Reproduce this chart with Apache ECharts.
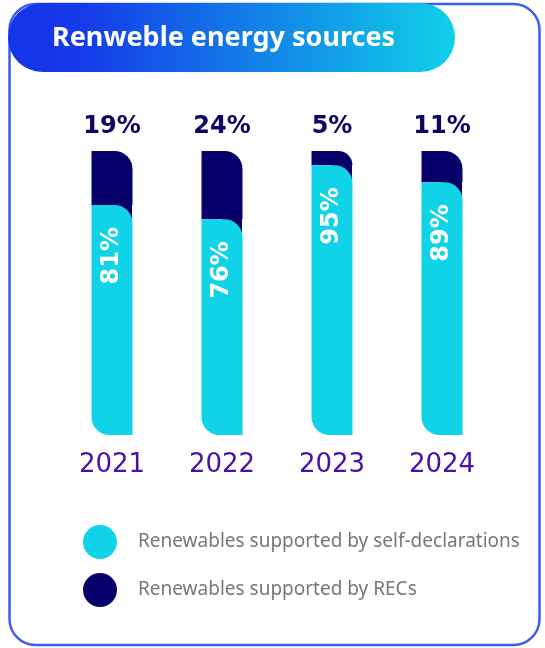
<!DOCTYPE html>
<html>
<head>
<meta charset="utf-8">
<script src="https://cdn.jsdelivr.net/npm/echarts@6/dist/echarts.min.js"></script>
<style>
  html, body { margin: 0; padding: 0; background: #ffffff; }
  #chart { width: 545px; height: 648px; }
</style>
</head>
<body>
<div id="chart"></div>
<script>
// Share of renewable energy by supporting evidence, per year (%)
const years = ['2021', '2022', '2023', '2024'];
const selfDeclared = [81, 76, 95, 89];
const recs = [19, 24, 5, 11];

const CYAN = '#10d3e8';
const NAVY = '#08006a';
const BAR_W = 41;
const CORNER = 18;
const FONT = '"Noto Sans", "Open Sans", sans-serif';
const NUM_FONT = '"DejaVu Sans", sans-serif';

const chart = echarts.init(document.getElementById('chart'), null, { renderer: 'canvas' });

chart.setOption({
  animation: false,
  backgroundColor: '#ffffff',
  graphic: [
    {
      type: 'rect',
      z: 0,
      shape: { x: 9.5, y: 4, width: 530, height: 641, r: 26 },
      style: { fill: 'none', stroke: '#3d5cf0', lineWidth: 2.5 }
    },
    {
      type: 'rect',
      z: 10,
      shape: { x: 8, y: 3, width: 447, height: 69, r: 34.5 },
      style: {
        fill: new echarts.graphic.LinearGradient(0, 0, 1, 0, [
          { offset: 0, color: '#1535e8' },
          { offset: 0.15, color: '#1538e8' },
          { offset: 1, color: '#10d0e8' }
        ])
      }
    },
    {
      type: 'text',
      z: 11,
      x: 52,
      y: 38,
      style: {
        text: 'Renweble energy sources',
        fill: '#ffffff',
        font: 'bold 27px ' + FONT,
        textVerticalAlign: 'middle'
      }
    }
  ],
  grid: { left: 57, right: 48, top: 151, bottom: 213 },
  xAxis: {
    type: 'category',
    data: years,
    axisLine: { show: false },
    axisTick: { show: false },
    axisLabel: {
      margin: 17,
      fontSize: 26,
      fontFamily: NUM_FONT,
      color: '#4a10a6'
    }
  },
  yAxis: { type: 'value', min: 0, max: 100, show: false },
  legend: {
    orient: 'vertical',
    left: 83,
    top: 525,
    padding: 0,
    icon: 'circle',
    itemWidth: 34,
    itemHeight: 34,
    itemGap: 14,
    data: ['Renewables supported by self-declarations', 'Renewables supported by RECs'],
    textStyle: {
      fontSize: 19,
      fontFamily: FONT,
      color: '#777777',
      padding: [0, 0, 0, 16]
    }
  },
  series: [
    {
      name: 'Renewables supported by self-declarations',
      type: 'bar',
      stack: 'total',
      barWidth: BAR_W,
      z: 3,
      data: selfDeclared,
      itemStyle: { color: CYAN, borderRadius: [0, CORNER, 0, CORNER] },
      label: {
        show: true,
        position: 'insideTop',
        distance: 22,
        rotate: 90,
        align: 'right',
        verticalAlign: 'middle',
        formatter: '{c}%',
        color: '#ffffff',
        fontSize: 24,
        fontWeight: 'bold',
        fontFamily: NUM_FONT
      }
    },
    {
      name: 'Renewables supported by RECs',
      type: 'bar',
      stack: 'total',
      barWidth: BAR_W,
      z: 2,
      data: recs,
      itemStyle: { color: NAVY, borderRadius: [0, CORNER, 0, 0] },
      label: {
        show: true,
        position: 'top',
        distance: 12,
        formatter: '{c}%',
        color: '#0b0565',
        fontSize: 24,
        fontWeight: 'bold',
        fontFamily: NUM_FONT
      }
    },
    {
      // navy backing behind the rounded top-right corner of each cyan segment
      name: 'corner-fill',
      type: 'custom',
      silent: true,
      z: 1,
      data: selfDeclared.map((v, i) => [i, v]),
      encode: { x: 0, y: 1 },
      renderItem: function (params, api) {
        const p = api.coord([api.value(0), api.value(1)]);
        return {
          type: 'rect',
          shape: { x: p[0], y: p[1] - 1, width: BAR_W / 2 - 0.5, height: CORNER + 2 },
          style: { fill: NAVY }
        };
      }
    }
  ]
});
</script>
</body>
</html>
